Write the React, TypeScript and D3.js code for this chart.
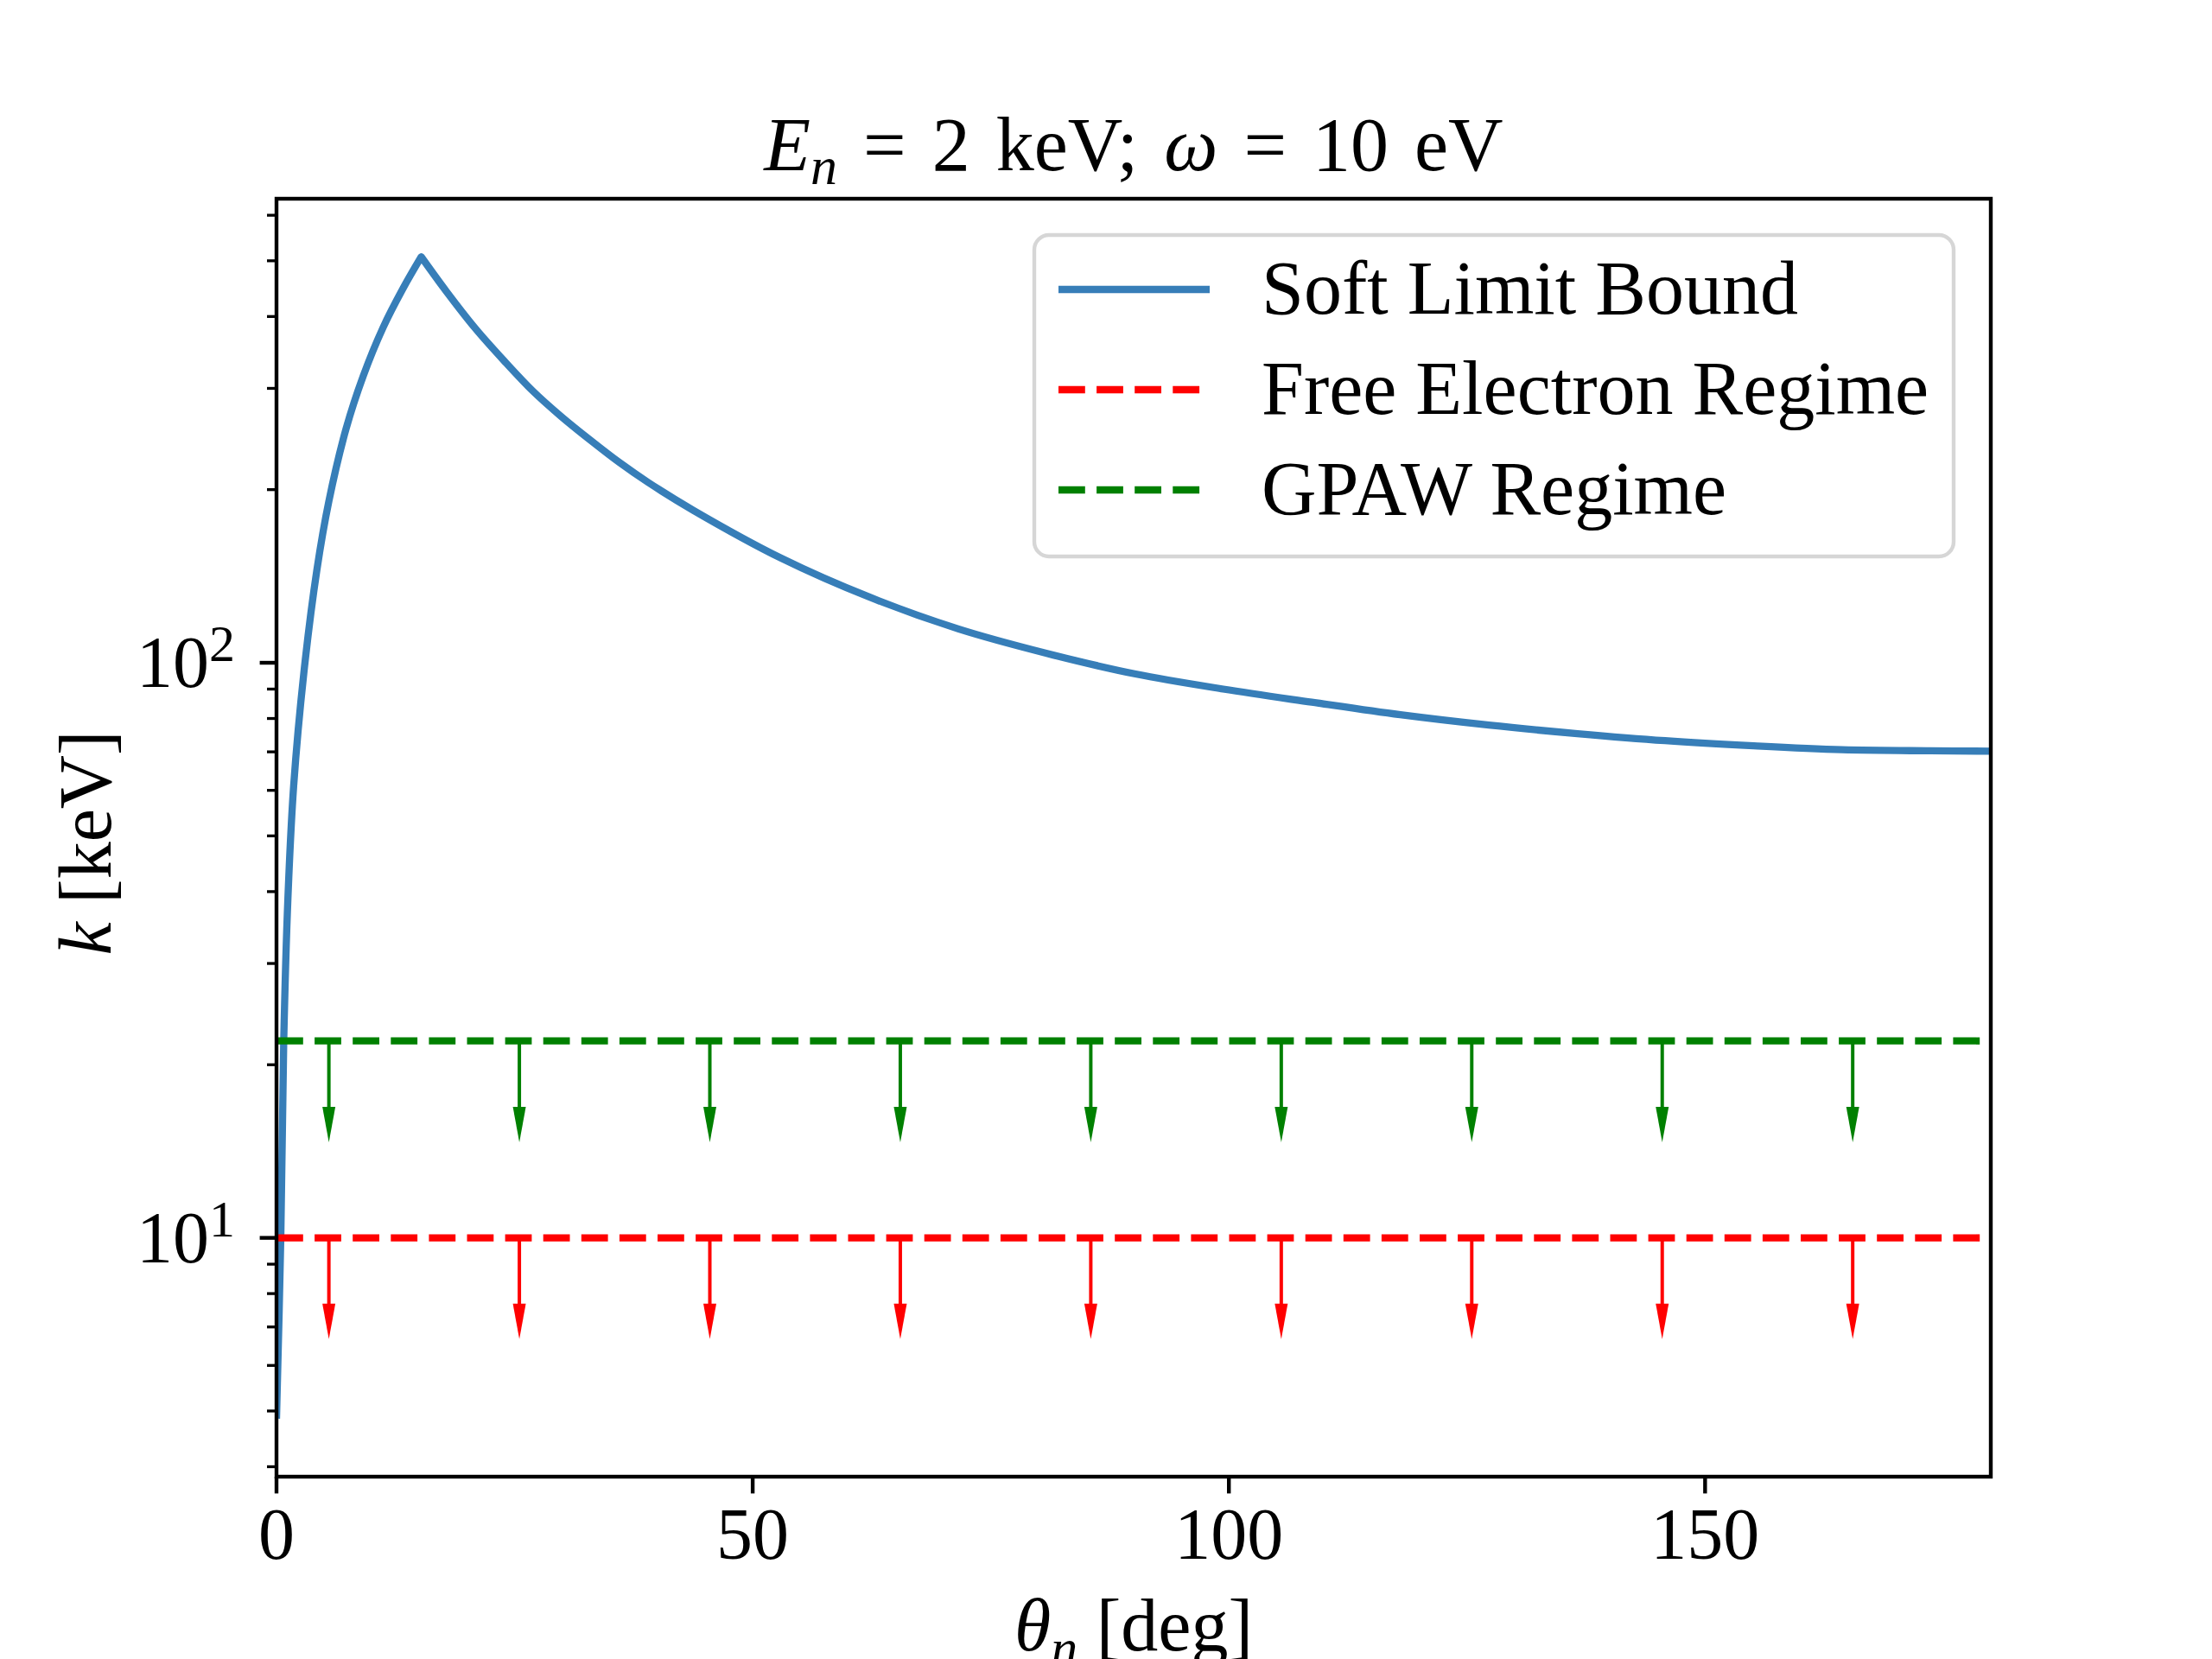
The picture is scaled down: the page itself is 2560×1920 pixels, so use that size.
import React from "react";
import * as d3 from "d3";

// Soft limit bound (theta in deg, k in keV)
const thetaDeg = [
  0, 0.45, 0.76, 1.2, 1.8, 2.87, 4.24, 5.5, 7.3, 9.1, 11.2, 13.3, 15.2,
  17.85, 20.9, 23.9, 26.9, 29.9, 33.0, 36.0, 39.0, 43.8, 53.0, 62.3, 71.6,
  80.9, 90.2, 99.4, 108.7, 118.0, 127.3, 136.6, 145.8, 155.1, 164.4, 173.7, 180,
];
const kSoftLimit = [
  4.85, 10, 22, 39, 61, 96, 145, 191, 255, 315, 383, 448, 508,
  442, 381, 335, 297, 268, 243.5, 223, 206, 184, 152, 130.0, 114.5,
  103.8, 95.6, 90.0, 85.4, 81.2, 77.9, 75.3, 73.2, 71.7, 70.6, 70.3, 70.2,
];

// upper limit levels with their arrows
const arrowTheta = [5.5, 25.5, 45.5, 65.5, 85.5, 105.5, 125.5, 145.5, 165.5];
const freeElectronK = 10;
const gpawK = 22;
const arrowDrop = 1 / 3; // yerr = k / 3

const xTickValues = [0, 50, 100, 150];
const yMajorExponents = [1, 2];
const legendLabels = ["Soft Limit Bound", "Free Electron Regime", "GPAW Regime"];

const BLUE = "#377eb8";
const RED = "#ff0000";
const GREEN = "#008000";
const FONT = "'Liberation Serif', 'Times New Roman', serif";

const W = 2560;
const H = 1920;
const margin = { left: 320, right: 256, top: 230, bottom: 211 };

export default function App() {
  const x0 = margin.left;
  const x1 = W - margin.right;
  const yTop = margin.top;
  const yBot = H - margin.bottom;

  const x = d3.scaleLinear().domain([0, 180]).range([x0, x1]);

  // matplotlib-like 5% margins in log space
  const [kMin, kMax] = d3.extent(kSoftLimit) as [number, number];
  const lmin = Math.log10(kMin);
  const lmax = Math.log10(kMax);
  const span = lmax - lmin;
  const y = d3
    .scaleLog()
    .domain([10 ** (lmin - 0.05 * span), 10 ** (lmax + 0.05 * span)])
    .range([yBot, yTop]);

  const points: [number, number][] = thetaDeg.map((t, i) => [t, kSoftLimit[i]]);
  const peak = d3.maxIndex(kSoftLimit);
  const line = d3
    .line<[number, number]>()
    .x((d) => x(d[0]))
    .y((d) => y(d[1]))
    .curve(d3.curveCatmullRom.alpha(0.5));
  // two pieces so the cusp at the peak stays sharp
  const rise = line(points.slice(0, peak + 1)) || "";
  const fall = line(points.slice(peak)) || "";
  const curvePath = rise + fall.replace(/^M/, "L");

  const minorTicks = y
    .ticks()
    .filter((v) => Math.abs(Math.log10(v) - Math.round(Math.log10(v))) > 1e-6);

  const lw = 8.33;
  const dash = "30.8 13.3";
  const headLen = 41;
  const headHalf = 7.5;

  const limitLine = (level: number, color: string) => (
    <g key={color}>
      <line
        x1={x(x.domain()[0])}
        x2={x(x.domain()[1])}
        y1={y(level)}
        y2={y(level)}
        stroke={color}
        strokeWidth={lw}
        strokeDasharray={dash}
      />
      {arrowTheta.map((t) => {
        const ax = x(t);
        const ay = y(level);
        const tip = y(level * (1 - arrowDrop));
        return (
          <g key={t}>
            <line x1={ax} x2={ax} y1={ay} y2={tip - headLen + 2} stroke={color} strokeWidth={4} />
            <polygon
              points={`${ax - headHalf},${tip - headLen} ${ax + headHalf},${tip - headLen} ${ax},${tip}`}
              fill={color}
            />
          </g>
        );
      })}
    </g>
  );

  // legend layout
  const lg = { x: 1197, y: 272, w: 1064, h: 372 };
  const rowY = [335, 451, 567];
  const legendColors = [BLUE, RED, GREEN];

  return (
    <svg
      width={W}
      height={H}
      style={{ position: "absolute", left: 0, top: 0, background: "#fff" }}
      fontFamily={FONT}
    >
      <rect x={0} y={0} width={W} height={H} fill="#fff" />
      <defs>
        <clipPath id="plot-area">
          <rect x={x0} y={yTop} width={x1 - x0} height={yBot - yTop} />
        </clipPath>
      </defs>

      <g clipPath="url(#plot-area)">
        <path d={curvePath} fill="none" stroke={BLUE} strokeWidth={lw} strokeLinejoin="round" />
        {limitLine(freeElectronK, RED)}
        {limitLine(gpawK, GREEN)}
      </g>

      {/* x ticks */}
      {xTickValues.map((v) => (
        <g key={v}>
          <line x1={x(v)} x2={x(v)} y1={yBot} y2={yBot + 19.4} stroke="#000" strokeWidth={4.4} />
          <text x={x(v)} y={1804} textAnchor="middle" fontSize={84}>
            {v}
          </text>
        </g>
      ))}

      {/* y ticks */}
      {minorTicks.map((v) => (
        <line key={v} x1={x0} x2={x0 - 11} y1={y(v)} y2={y(v)} stroke="#000" strokeWidth={3.3} />
      ))}
      {yMajorExponents.map((e) => (
        <g key={e}>
          <line x1={x0} x2={x0 - 19.4} y1={y(10 ** e)} y2={y(10 ** e)} stroke="#000" strokeWidth={4.4} />
          <text x={272} y={y(10 ** e) + 28} textAnchor="end" fontSize={84}>
            10
            <tspan dy={-30} fontSize={60}>
              {e}
            </tspan>
          </text>
        </g>
      ))}

      {/* spines */}
      <rect
        x={x0}
        y={yTop}
        width={x1 - x0}
        height={yBot - yTop}
        fill="none"
        stroke="#000"
        strokeWidth={4.4}
      />

      {/* legend */}
      <rect
        x={lg.x}
        y={lg.y}
        width={lg.w}
        height={lg.h}
        rx={17}
        fill="#fff"
        stroke="#d6d6d6"
        strokeWidth={4.4}
      />
      {legendLabels.map((label, i) => (
        <g key={label}>
          <line
            x1={1225}
            x2={1400}
            y1={rowY[i]}
            y2={rowY[i]}
            stroke={legendColors[i]}
            strokeWidth={lw}
            strokeDasharray={i === 0 ? undefined : dash}
          />
          <text x={1460} y={rowY[i] + 28} fontSize={88}>
            {label}
          </text>
        </g>
      ))}

      {/* title */}
      <text
        x={(x0 + x1) / 2}
        y={197}
        textAnchor="middle"
        fontSize={88}
        wordSpacing={8}
        style={{ whiteSpace: "pre" }}
      >
        <tspan fontStyle="italic">E</tspan>
        <tspan fontStyle="italic" fontSize={62} dy={16}>
          n
        </tspan>
        <tspan dy={-16}>{" = 2 keV; "}</tspan>
        <tspan fontStyle="italic">ω</tspan>
        <tspan>{" = 10 eV"}</tspan>
      </text>

      {/* axis labels */}
      <text x={(x0 + x1) / 2} y={1910} textAnchor="middle" fontSize={86} style={{ whiteSpace: "pre" }}>
        <tspan fontStyle="italic">θ</tspan>
        <tspan fontStyle="italic" fontSize={62} dy={18}>
          n
        </tspan>
        <tspan dy={-18}>{" [deg]"}</tspan>
      </text>
      <text
        transform={`translate(128, ${(yTop + yBot) / 2 + 6}) rotate(-90)`}
        textAnchor="middle"
        fontSize={86}
        style={{ whiteSpace: "pre" }}
      >
        <tspan fontStyle="italic">k</tspan>
        <tspan>{" [keV]"}</tspan>
      </text>
    </svg>
  );
}
